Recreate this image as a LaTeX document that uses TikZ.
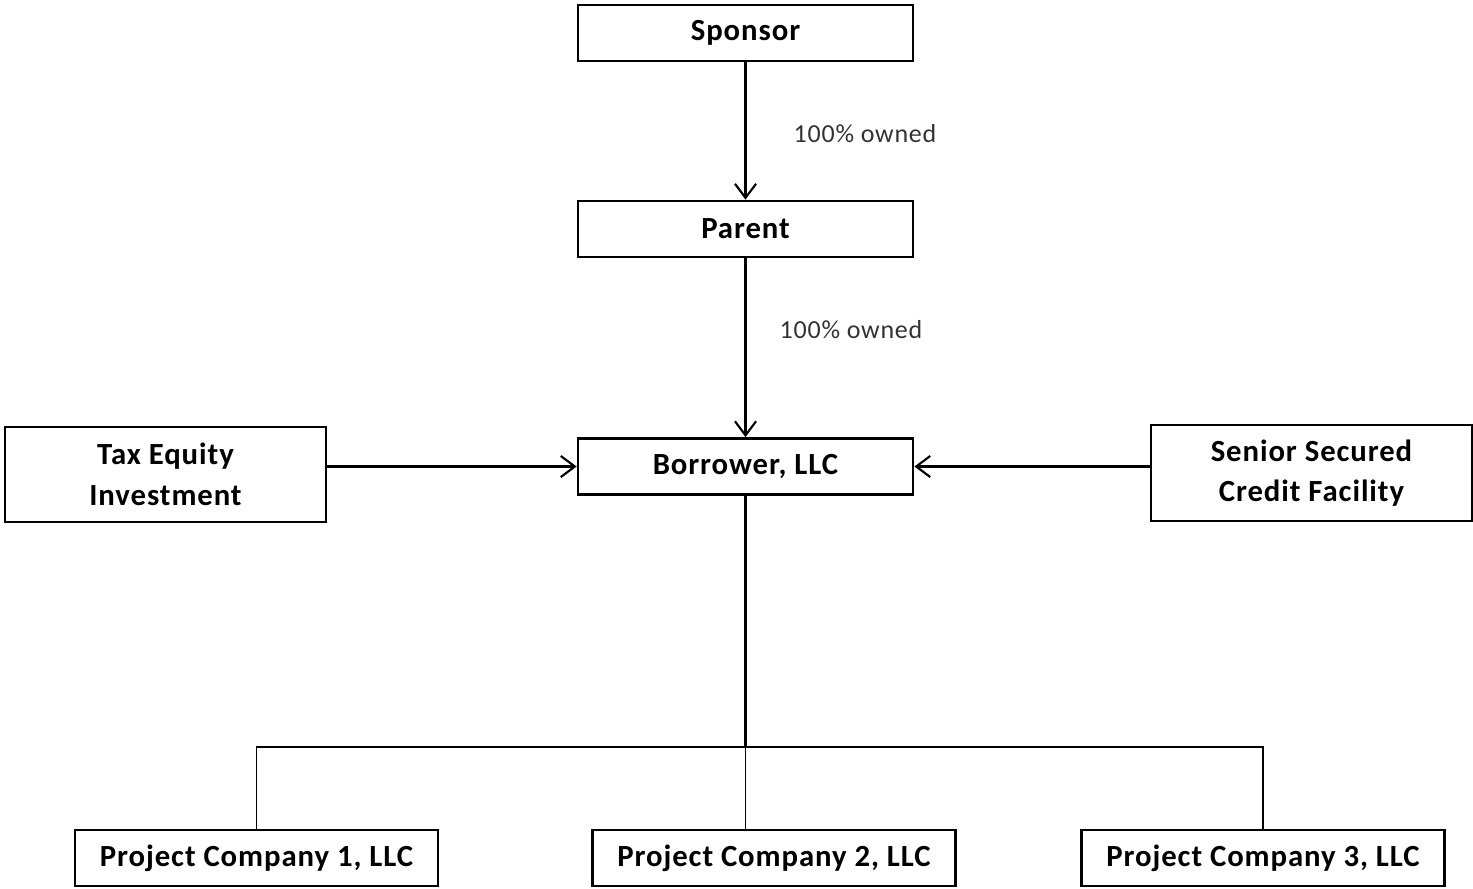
\documentclass[tikz,border=0pt]{standalone}
\usepackage{fontspec}
\setmainfont{Carlito}[LetterSpace=3]
\usetikzlibrary{arrows.meta}

\tikzset{
  entity/.style={draw, line width=1.6pt, inner sep=0pt, align=center,
    minimum width=6.7cm, minimum height=1.12cm, font=\fontsize{17.5}{23}\selectfont\bfseries},
  owns/.style={line width=1.3pt, -{Straight Barb[length=8pt,width=12pt,line width=1.2pt]}},
  share/.style={font=\fontsize{14.8}{18}\selectfont, text=black!80}
}

\begin{document}
\begin{tikzpicture}
			%%%%% START %%%%%
			\useasboundingbox (0, 0) rectangle (29.46, -17.78);
			
			\node[entity] (sponsor) at (14.91, -0.66) {Sponsor};
			\node[entity] (parent) at (14.91, -4.58) {Parent};
			\node[entity] (borrower) at (14.91, -9.33) {Borrower, LLC};
			
			\node[entity, minimum width=6.42cm, minimum height=1.9cm] (taxeq) at (3.31, -9.49) {Tax Equity\\Investment};
			\node[entity, minimum width=6.42cm, minimum height=1.92cm] (senior) at (26.23, -9.46) {Senior Secured\\Credit Facility};
			
			\node[entity, minimum width=7.26cm] (proj1) at (5.13, -17.16) {Project Company 1, LLC};
			\node[entity, minimum width=7.26cm] (proj2) at (15.48, -17.16) {Project Company 2, LLC};
			\node[entity, minimum width=7.26cm] (proj3) at (25.26, -17.16) {Project Company 3, LLC};
			
			\draw[owns] (sponsor) -- (parent);
			\node[share] (own1) at (17.3, -2.68) {100\% owned};
			\draw[owns] (parent) -- (borrower);
			\node[share] (own2) at (17.02, -6.6) {100\% owned};
			
			\draw[owns] (taxeq.east |- borrower.west) -- (borrower.west);
			\draw[owns] (senior.west |- borrower.east) -- (borrower.east);
			
			\coordinate (bus) at (14.91, -14.94);
			\draw[line width=1.3pt] (borrower.south) -- (bus);
			\draw[line width=0.8pt] (proj1.north) |- (bus) -| (proj3.north);
			\draw[line width=0.8pt] (bus) -- (bus |- proj2.north);
			%%%%% END %%%%%
		\end{tikzpicture}
\end{document}
